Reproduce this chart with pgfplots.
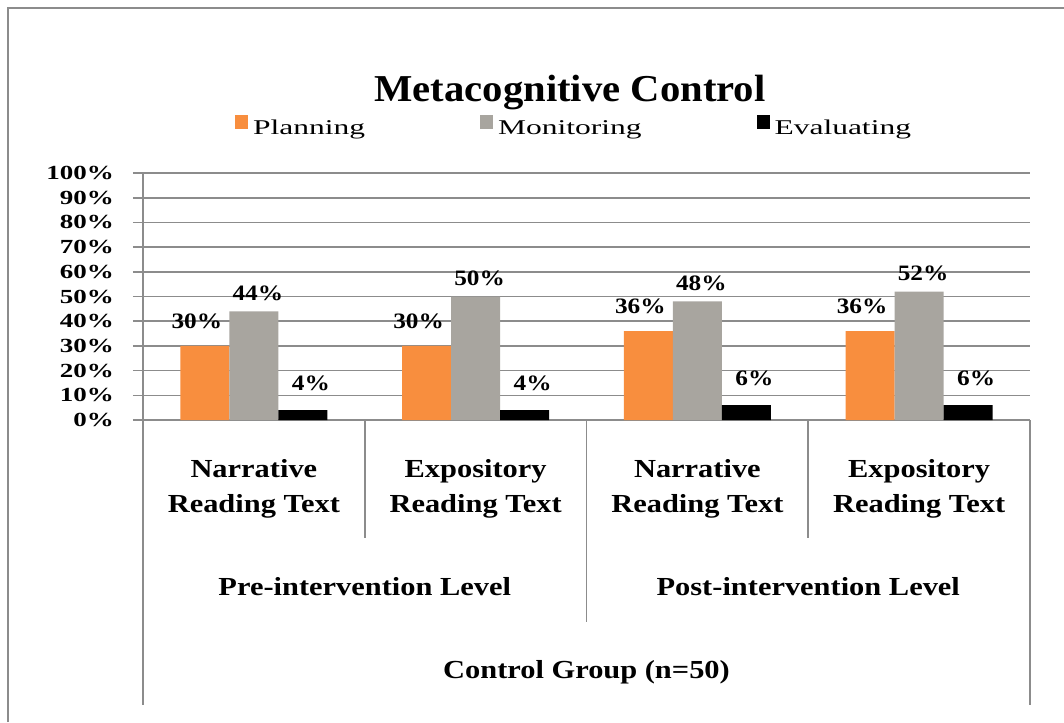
\documentclass[border=0pt]{standalone}
\usepackage{pgfplots}
\pgfplotsset{compat=1.18}
\usepackage{fontspec}
\setmainfont{Liberation Serif}
\newfontfamily\tickfam[FakeStretch=1.35]{Liberation Serif}
\newfontfamily\datafam[FakeStretch=1.15]{Liberation Serif}
\newfontfamily\legfam[FakeStretch=1.5]{Liberation Serif}
\newfontfamily\catfam[FakeStretch=1.17]{Liberation Serif}
\newfontfamily\titlefam[FakeStretch=1.07]{Liberation Serif}
\definecolor{planc}{HTML}{F88E3E}
\definecolor{monc}{HTML}{A8A59F}
\definecolor{gridc}{HTML}{8C8C8C}
\begin{document}
\begin{tikzpicture}
\useasboundingbox (0,0) rectangle (532pt,-361pt);
\draw[gridc, line width=1pt] (4pt,-361pt) -- (4pt,-4pt) -- (532pt,-4pt);
\node[anchor=base, font=\titlefam\bfseries\fontsize{19}{22}\selectfont] at (285pt,-51pt) {Metacognitive Control};
\begin{axis}[
 at={(71.5pt,-210pt)}, anchor=south west,
 scale only axis, width=443.5pt, height=123.5pt,
 xmin=0, xmax=4, ymin=0, ymax=100,
 ybar=0pt, bar width=24.5pt,
 /pgf/number format/assume math mode=true,
 axis x line*=bottom, axis y line*=left,
 axis line style={draw=gridc, line width=0.8pt, -},
 ytick={0,10,...,100},
 yticklabel={\pgfmathprintnumber{\tick}\%},
 yticklabel style={font=\tickfam\bfseries\fontsize{10}{12}\selectfont, xshift=-6pt},
 tick align=outside, major tick length=5pt,
 ytick style={draw=gridc, line width=0.8pt},
 ymajorgrids, major grid style={draw=gridc, line width=0.8pt},
 xtick={0.5,1.5,2.5,3.5},
 xticklabels={Narrative\\Reading Text, Expository\\Reading Text, Narrative\\Reading Text, Expository\\Reading Text},
 xticklabel style={align=center, font=\catfam\bfseries\fontsize{13}{17.5}\selectfont, anchor=base, yshift=-41pt},
 xtick style={draw=none},
 clip=false,
 legend style={at={(0.4876,1.19)}, anchor=center, draw=none, fill=none, legend columns=3,
   font=\legfam\fontsize{10.5}{12}\selectfont,
   /tikz/every even column/.append style={column sep=55pt},
   inner sep=0pt, nodes={inner xsep=2.5pt, inner ysep=0pt}},
 legend image code/.code={\fill[#1] (0pt,0pt) rectangle (6.5pt,7pt);},
 nodes near coords={\pgfmathprintnumber{\pgfplotspointmeta}\%},
]
\addplot[fill=planc, draw=none, every node near coord/.append style={font=\datafam\bfseries\fontsize{11}{13}\selectfont, xshift=-4pt, yshift=5.25pt}]
 coordinates {(0.5,30) (1.5,30) (2.5,36) (3.5,36)};
\addplot[fill=monc, draw=none, every node near coord/.append style={font=\datafam\bfseries\fontsize{11}{13}\selectfont, xshift=2pt, yshift=1.75pt}]
 coordinates {(0.5,44) (1.5,50) (2.5,48) (3.5,52)};
\addplot[fill=black, draw=none, every node near coord/.append style={font=\datafam\bfseries\fontsize{11}{13}\selectfont, xshift=4pt, yshift=6.25pt}]
 coordinates {(0.5,4) (1.5,4) (2.5,6) (3.5,6)};
\legend{Planning, Monitoring, Evaluating}
\draw[gridc, line width=0.8pt] (axis cs:1,0) -- ++(0pt,-59pt);
\draw[gridc, line width=0.8pt] (axis cs:3,0) -- ++(0pt,-59pt);
\draw[gridc, line width=0.8pt] (axis cs:2,0) -- ++(0pt,-101pt);
\draw[gridc, line width=0.8pt] (axis cs:0,0) -- ++(0pt,-142.5pt);
\draw[gridc, line width=0.8pt] (axis cs:4,0) -- ++(0pt,-142.5pt);
\node[anchor=base, font=\catfam\bfseries\fontsize{13}{16}\selectfont, yshift=-87.5pt] at (axis cs:1,0) {Pre-intervention Level};
\node[anchor=base, font=\catfam\bfseries\fontsize{13}{16}\selectfont, yshift=-87.5pt] at (axis cs:3,0) {Post-intervention Level};
\node[anchor=base, font=\catfam\bfseries\fontsize{13}{16}\selectfont, yshift=-129pt] at (axis cs:2,0) {Control Group (n=50)};
\end{axis}
\end{tikzpicture}
\end{document}
